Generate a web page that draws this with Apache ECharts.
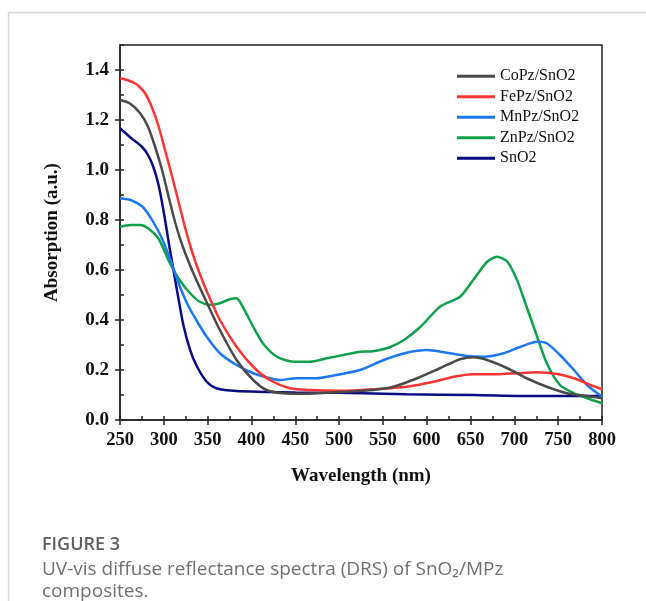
<!DOCTYPE html>
<html>
<head>
<meta charset="utf-8">
<script src="https://cdn.jsdelivr.net/npm/echarts@6/dist/echarts.min.js"></script>
<style>
html,body{margin:0;padding:0;background:#fff;}
#chart{width:646px;height:601px;}
</style>
</head>
<body>
<div id="chart"></div>
<script>
// ---- data ----
const seriesNames = ['CoPz/SnO2', 'FePz/SnO2', 'MnPz/SnO2', 'ZnPz/SnO2', 'SnO2'];
const xTicks = [250, 300, 350, 400, 450, 500, 550, 600, 650, 700, 750, 800];
const yTicks = [0.0, 0.2, 0.4, 0.6, 0.8, 1.0, 1.2, 1.4];

const coPz = [[250,1.28],[261,1.267],[273,1.227],[282,1.173],[290,1.093],[298,1.0],[305,0.9],[313,0.79],[322,0.69],[334,0.585],[349,0.47],[364,0.36],[383,0.24],[402,0.16],[417,0.12],[436,0.107],[460,0.105],[501,0.112],[539,0.12],[562,0.133],[589,0.167],[615,0.207],[638,0.243],[653,0.251],[669,0.24],[692,0.207],[714,0.167],[737,0.133],[760,0.107],[783,0.096],[800,0.087]];
const fePz = [[250,1.367],[258,1.36],[267,1.347],[273,1.33],[279,1.305],[286,1.255],[294,1.175],[301,1.085],[309,0.98],[317,0.87],[325,0.76],[333,0.665],[341,0.585],[349,0.515],[364,0.40],[383,0.293],[402,0.213],[421,0.16],[444,0.127],[467,0.12],[501,0.117],[539,0.123],[577,0.133],[608,0.153],[631,0.173],[653,0.183],[680,0.183],[703,0.187],[726,0.191],[749,0.184],[768,0.167],[787,0.14],[800,0.123]];
const mnPz = [[250,0.887],[262,0.88],[275,0.855],[282,0.825],[290,0.78],[298,0.725],[307,0.645],[315,0.565],[326,0.47],[337,0.40],[349,0.333],[364,0.267],[383,0.22],[402,0.187],[421,0.167],[432,0.16],[451,0.167],[474,0.167],[497,0.18],[524,0.20],[551,0.24],[577,0.269],[600,0.28],[623,0.269],[646,0.256],[665,0.253],[688,0.267],[707,0.293],[726,0.313],[737,0.307],[752,0.26],[768,0.20],[783,0.14],[800,0.093]];
const znPz = [[250,0.773],[262,0.78],[273,0.78],[282,0.767],[294,0.725],[307,0.627],[318,0.56],[330,0.507],[341,0.473],[353,0.46],[364,0.467],[375,0.483],[383,0.487],[390,0.453],[402,0.373],[413,0.307],[429,0.253],[448,0.233],[467,0.233],[486,0.247],[505,0.26],[524,0.273],[539,0.275],[557,0.29],[574,0.32],[593,0.373],[615,0.453],[638,0.493],[653,0.56],[669,0.633],[680,0.653],[692,0.633],[703,0.56],[714,0.453],[726,0.333],[737,0.227],[752,0.14],[768,0.107],[783,0.087],[800,0.067]];
const snO2 = [[250,1.167],[263,1.127],[275,1.093],[282,1.06],[288,1.013],[294,0.94],[300,0.83],[307,0.68],[311,0.60],[315,0.52],[322,0.385],[330,0.28],[338,0.213],[349,0.153],[360,0.127],[383,0.116],[450,0.11],[501,0.109],[577,0.103],[653,0.10],[730,0.096],[800,0.096]];

const seriesData = [coPz, fePz, mnPz, znPz, snO2];
const colors = ['#4a4a4a', '#ff3535', '#1c78f0', '#10a04c', '#0b0b82'];

const serif = '"Liberation Serif", "Times New Roman", serif';
const axisColor = '#222';

const chart = echarts.init(document.getElementById('chart'), null, {renderer: 'canvas'});

const option = {
  animation: false,
  backgroundColor: '#fff',
  grid: {left: 120, right: 44, top: 45, bottom: 181, show: true, borderColor: axisColor, borderWidth: 1.5, backgroundColor: 'transparent'},
  xAxis: [
    {
      type: 'value', min: 250, max: 800, interval: 50,
      axisLine: {show: true, lineStyle: {color: axisColor, width: 1.5}},
      axisTick: {show: true, inside: false, length: 5, lineStyle: {color: axisColor, width: 1.5}},
      axisLabel: {fontFamily: serif, fontWeight: 'bold', fontSize: 18.5, color: '#111', margin: 11},
      splitLine: {show: false},
      name: 'Wavelength (nm)', nameLocation: 'middle', nameGap: 47,
      nameTextStyle: {fontFamily: serif, fontWeight: 'bold', fontSize: 19, color: '#111'}
    },
    {
      type: 'value', min: 250, max: 800, interval: 25, position: 'bottom',
      axisLine: {show: false},
      axisTick: {show: true, inside: true, length: 4, lineStyle: {color: axisColor, width: 1.5}},
      axisLabel: {show: false},
      splitLine: {show: false}
    }
  ],
  yAxis: [
    {
      type: 'value', min: 0, max: 1.5, interval: 0.2,
      axisLine: {show: true, lineStyle: {color: axisColor, width: 1.5}},
      axisTick: {show: true, inside: false, length: 5, customValues: yTicks, lineStyle: {color: axisColor, width: 1.5}},
      axisLabel: {fontFamily: serif, fontWeight: 'bold', fontSize: 19, color: '#111', margin: 11, customValues: yTicks,
        formatter: v => v.toFixed(1)},
      splitLine: {show: false},
      name: 'Absorption (a.u.)', nameLocation: 'middle', nameGap: 58,
      nameTextStyle: {fontFamily: serif, fontWeight: 'bold', fontSize: 19, color: '#111'}
    },
    {
      type: 'value', min: 0, max: 1.5, interval: 0.1, position: 'left',
      axisLine: {show: false},
      axisTick: {show: true, inside: true, length: 4, lineStyle: {color: axisColor, width: 1.5}},
      axisLabel: {show: false},
      splitLine: {show: false}
    }
  ],
  legend: {
    orient: 'vertical', left: 452, top: 63,
    icon: 'rect', itemWidth: 38, itemHeight: 3, itemGap: 4,
    textStyle: {fontFamily: serif, fontSize: 16, color: '#111', lineHeight: 16.5},
    data: seriesNames
  },
  series: seriesNames.map((n, i) => ({
    name: n, type: 'line', data: seriesData[i], xAxisIndex: 0, yAxisIndex: 0,
    showSymbol: false, smooth: 0.25,
    lineStyle: {color: colors[i], width: 2.5}, itemStyle: {color: colors[i]},
    z: 5 - i
  })),
  graphic: [
    {type: 'line', shape: {x1: 8.5, y1: 12.5, x2: 646, y2: 12.5}, style: {stroke: '#d8d8d8', lineWidth: 1.5}, silent: true},
    {type: 'line', shape: {x1: 8.5, y1: 12.5, x2: 8.5, y2: 601}, style: {stroke: '#d8d8d8', lineWidth: 1.5}, silent: true},
    {type: 'text', left: 42, top: 536, style: {text: 'FIGURE 3', font: '600 18px "Open Sans", "Noto Sans", sans-serif', fill: '#5f5f5f'}},
    {type: 'text', left: 42, top: 560, style: {text: 'UV-vis diffuse reflectance spectra (DRS) of SnO₂/MPz', font: '19px "Open Sans", "Noto Sans", sans-serif', fill: '#707070'}},
    {type: 'text', left: 42, top: 582, style: {text: 'composites.', font: '19px "Open Sans", "Noto Sans", sans-serif', fill: '#707070'}}
  ]
};
chart.setOption(option);
</script>
</body>
</html>
